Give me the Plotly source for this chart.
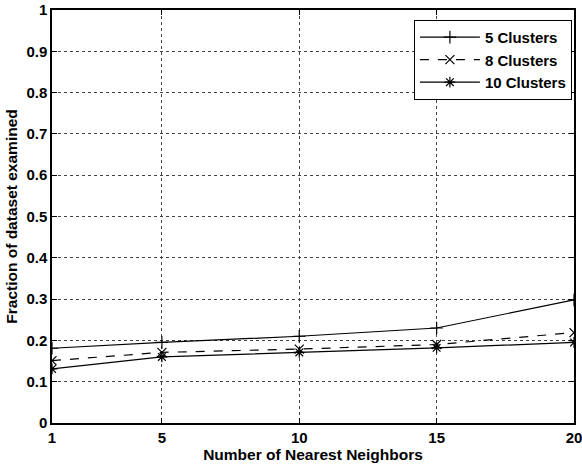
import plotly.graph_objects as go

# Data
neighbors = [1, 5, 10, 15, 20]
clusters_5 = [0.181, 0.195, 0.21, 0.23, 0.298]
clusters_8 = [0.151, 0.171, 0.179, 0.19, 0.219]
clusters_10 = [0.131, 0.16, 0.171, 0.182, 0.195]

series = [
    ('5 Clusters', clusters_5, 'solid', 'cross-thin'),
    ('8 Clusters', clusters_8, 'dash', 'x-thin'),
    ('10 Clusters', clusters_10, 'solid', 'asterisk'),
]

fig = go.Figure()
for name, vals, dash, sym in series:
    fig.add_trace(go.Scatter(
        x=neighbors, y=vals, name='<b>' + name + '</b>', mode='lines+markers',
        line=dict(color='black', width=1.2, dash=dash),
        marker=dict(symbol=sym, size=9, color='black',
                    line=dict(color='black', width=1.2)),
    ))

font = dict(family='Liberation Sans, Arial, sans-serif', color='black')
axis_common = dict(
    showline=True, linecolor='black', linewidth=1.5, mirror='ticks',
    ticks='inside', ticklen=5, tickcolor='black',
    showgrid=True, gridcolor='#444', gridwidth=0.6, griddash='dot',
    zeroline=False, tickfont=dict(size=15, **font),
    automargin=False, ticklabeloverflow='allow',
)

xticks = [1, 5, 10, 15, 20]
fig.update_xaxes(range=[1, 20], tickvals=xticks,
                 ticktext=['<b>%d</b>' % v for v in xticks],
                 title=dict(text='<b>Number of Nearest Neighbors</b>',
                            font=dict(size=15.5, **font), standoff=1),
                 **axis_common)
yticks = [i / 10 for i in range(11)]
fig.update_yaxes(range=[0, 1], tickvals=yticks,
                 ticktext=['<b>%g</b>' % v for v in yticks],
                 title=dict(text='<b>Fraction of dataset examined</b>',
                            font=dict(size=15.5, **font), standoff=5),
                 **axis_common)

fig.update_layout(
    width=582, height=468,
    margin=dict(l=52, r=8, t=10, b=45),
    paper_bgcolor='white', plot_bgcolor='white',
    font=font,
    legend=dict(x=0.996, y=0.976, xanchor='right', yanchor='top',
                bgcolor='white', bordercolor='black', borderwidth=1,
                font=dict(size=15, **font), tracegroupgap=0,
                itemwidth=60),
)

# drop the default 8px body margin so the figure fills the window
fig.write_html('out.html', config={'displayModeBar': False},
               post_script="document.body.style.margin='0';")
